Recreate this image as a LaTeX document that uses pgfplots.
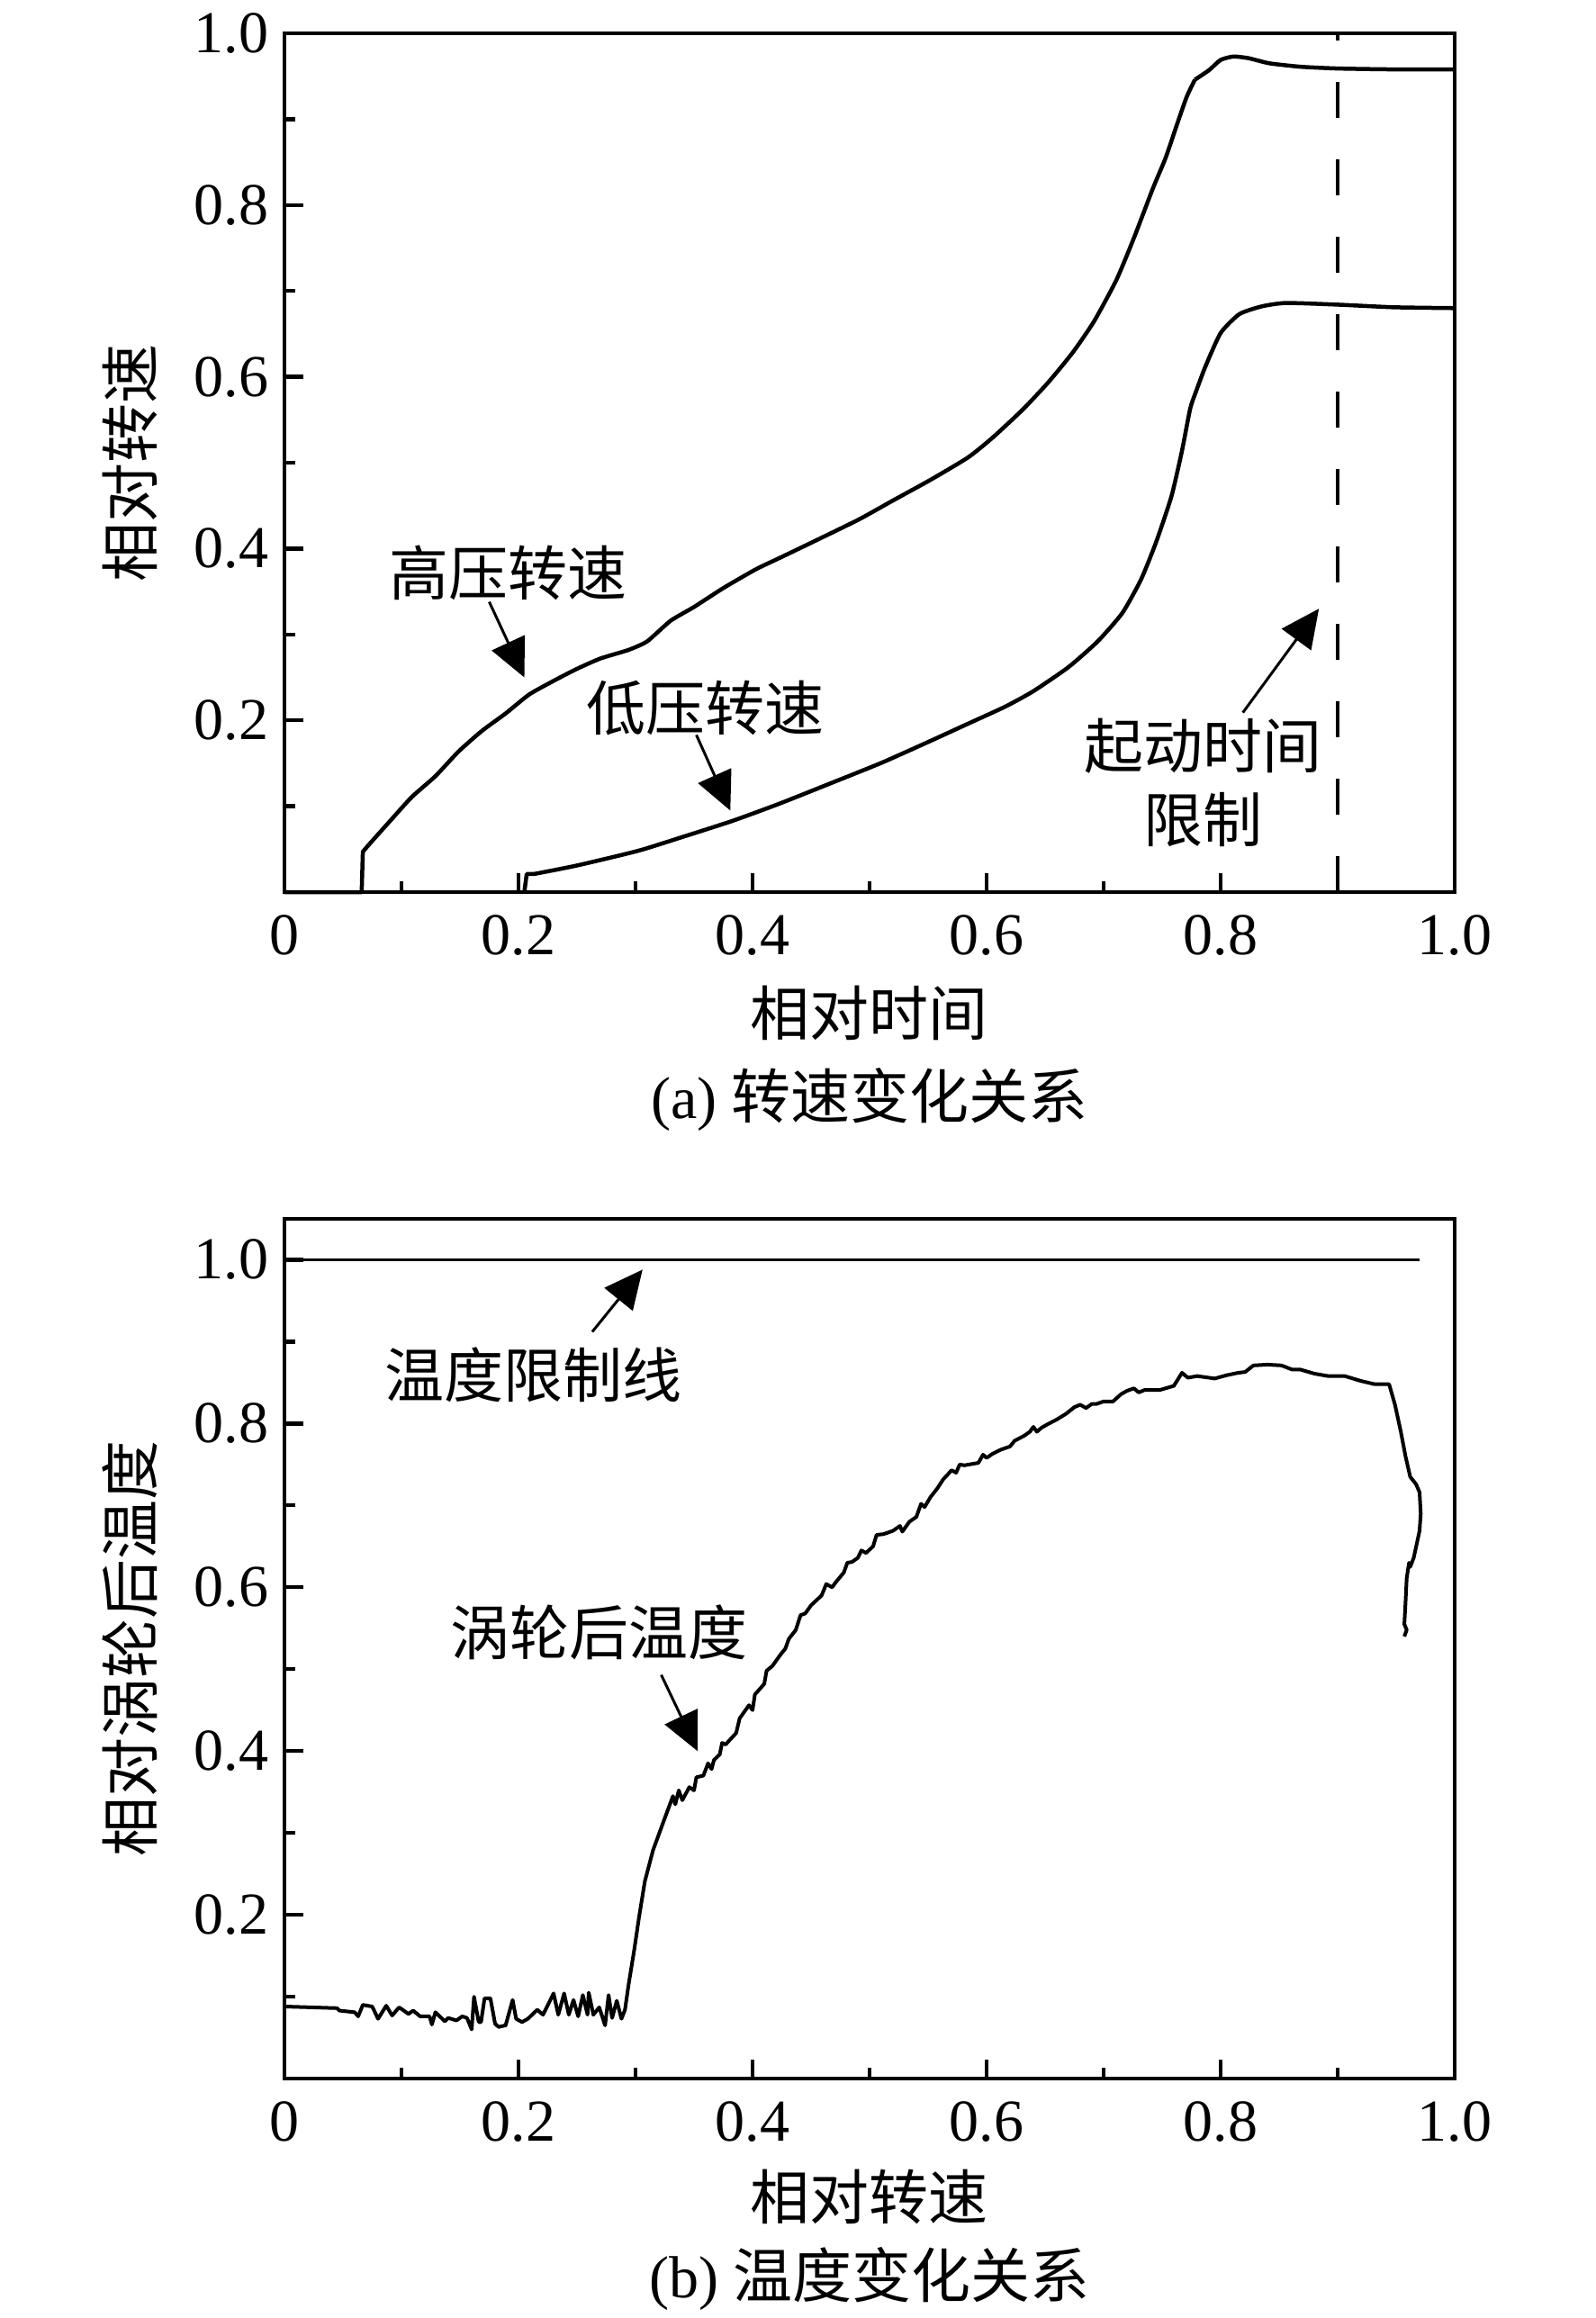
\documentclass[border=0pt]{standalone}
\usepackage{fontspec}
\setmainfont{Liberation Serif}
\newfontfamily\cjk{Noto Sans CJK SC}
\usepackage{pgfplots}
\pgfplotsset{compat=1.18}
\usetikzlibrary{arrows.meta}
\newcommand\fs{\fontsize{13.2}{16.4}\selectfont}
\tikzset{arr/.style={-{Triangle[length=8.5pt,width=8pt]}, line width=0.6pt, black}}
\pgfplotsset{
  myaxis/.style={
    scale only axis, width=260pt, clip=false,
    xmin=0, xmax=1, ymin=0,
    axis line style={line width=0.85pt},
    every tick/.style={line width=0.85pt, black},
    major tick length=4.2pt, minor tick length=2.4pt,
    tick align=inside, tick pos=left,
    xtick={0,0.2,0.4,0.6,0.8,1.0}, xticklabels={0,0.2,0.4,0.6,0.8,1.0},
    minor xtick={0.1,0.3,0.5,0.7,0.9},
    ytick={0.2,0.4,0.6,0.8,1.0}, yticklabels={0.2,0.4,0.6,0.8,1.0},
    minor ytick={0.1,0.3,0.5,0.7,0.9},
    ticklabel style={font=\fs},
    xticklabel style={yshift=-1.5pt},
    label style={font=\fs},
    /pgf/number format/assume math mode=true,
  },
  curve/.style={black, line width=0.9pt, line join=round},
}
\begin{document}
\begin{tikzpicture}
\useasboundingbox (-63.2pt,-316.8pt) rectangle (291.2pt,198.2pt);
% ---------------- panel (a)
\begin{axis}[myaxis, height=190.8pt, ymax=1.0,
  at={(0pt,0pt)}, anchor=south west,
  xlabel={\cjk 相对时间}, ylabel={\cjk 相对转速},
  xlabel style={at={(axis description cs:0.5,-0.141)}, anchor=center},
  ylabel style={at={(axis description cs:-0.1323,0.5)}, anchor=center}]
% high-pressure speed
\addplot[curve] coordinates {(0,0) (0.066,0) (0.067,0.047) (0.072,0.055)};
\addplot[curve, smooth, tension=0.35] coordinates {
(0.072,0.055) (0.093,0.087) (0.109,0.111)
(0.129,0.135) (0.149,0.164) (0.169,0.188) (0.189,0.208) (0.209,0.230)
(0.230,0.246) (0.250,0.260) (0.270,0.272) (0.294,0.282) (0.310,0.292)
(0.330,0.316) (0.350,0.332) (0.375,0.354) (0.403,0.376) (0.423,0.389)
(0.455,0.410) (0.491,0.434) (0.520,0.456) (0.552,0.480) (0.584,0.506)
(0.605,0.529) (0.631,0.562) (0.653,0.594) (0.674,0.629) (0.692,0.665)
(0.711,0.713) (0.726,0.762) (0.742,0.819) (0.753,0.855) (0.763,0.895)
(0.771,0.926) (0.778,0.946)};
\addplot[curve, smooth, tension=0.35] coordinates {
(0.778,0.946) (0.790,0.957) (0.800,0.969) (0.811,0.973)
(0.824,0.971) (0.842,0.965) (0.869,0.961) (0.901,0.959) (0.948,0.958)
(1.0,0.958)};
% low-pressure speed
\addplot[curve] coordinates {(0.205,0) (0.207,0.021) (0.213,0.021)};
\addplot[curve, smooth, tension=0.35] coordinates {
(0.213,0.021) (0.250,0.031) (0.302,0.048)
(0.342,0.065) (0.383,0.083) (0.423,0.103) (0.471,0.129) (0.511,0.151)
(0.552,0.176) (0.584,0.196) (0.616,0.216) (0.640,0.234) (0.670,0.262)
(0.695,0.292) (0.716,0.325) (0.732,0.364) (0.745,0.408) (0.758,0.461)
(0.767,0.514) (0.774,0.563) (0.779,0.583) (0.787,0.612) (0.800,0.651)
(0.816,0.673) (0.835,0.682) (0.856,0.686) (0.901,0.684) (0.948,0.681)
(1.0,0.680)};
\addplot[black, line width=0.85pt, dash pattern=on 8pt off 9.2pt] coordinates {(0.9,0) (0.9,1.0)};
\node[font=\fs\cjk] at (axis cs:0.191,0.372) {高压转速};
\draw[arr] (axis cs:0.175,0.338) -- (axis cs:0.205,0.250);
\node[font=\fs\cjk] at (axis cs:0.360,0.214) {低压转速};
\draw[arr] (axis cs:0.352,0.183) -- (axis cs:0.381,0.095);
\node[font=\fs\cjk, align=center] at (axis cs:0.785,0.127) {起动时间\\限制};
\draw[arr] (axis cs:0.819,0.209) -- (axis cs:0.884,0.330);
\node[font=\fs] at (axis description cs:0.5,-0.242) {(a) {\cjk 转速变化关系}};
\end{axis}
% ---------------- panel (b)
\begin{axis}[myaxis, height=191pt, ymax=1.05,
  at={(0pt,-263.6pt)}, anchor=south west,
  xlabel={\cjk 相对转速}, ylabel={\cjk 相对涡轮后温度},
  xlabel style={at={(axis description cs:0.5,-0.138)}, anchor=center},
  ylabel style={at={(axis description cs:-0.1323,0.5)}, anchor=center}]
\addplot[black, line width=0.75pt] coordinates {(0,1.0) (0.970,1.0)};
\addplot[curve, line width=0.8pt] coordinates {
(0.000,0.088) (0.045,0.086) (0.047,0.083) (0.060,0.081) (0.063,0.076)
(0.067,0.090) (0.075,0.088) (0.080,0.073) (0.087,0.089) (0.092,0.077)
(0.098,0.087) (0.106,0.079) (0.110,0.083) (0.116,0.076) (0.124,0.076)
(0.126,0.066) (0.129,0.081) (0.137,0.070) (0.140,0.074) (0.147,0.071)
(0.152,0.076) (0.156,0.074) (0.160,0.060) (0.162,0.100) (0.166,0.069)
(0.168,0.069) (0.171,0.098) (0.176,0.098) (0.180,0.067) (0.183,0.063)
(0.189,0.065) (0.195,0.096) (0.198,0.073) (0.203,0.069) (0.208,0.073)
(0.216,0.084) (0.221,0.078) (0.230,0.104) (0.234,0.078) (0.239,0.104)
(0.243,0.078) (0.247,0.096) (0.251,0.076) (0.255,0.102) (0.259,0.078)
(0.260,0.105) (0.264,0.078) (0.269,0.087) (0.274,0.065) (0.277,0.102)
(0.280,0.074) (0.284,0.095) (0.288,0.073) (0.291,0.084) (0.294,0.114)
(0.299,0.158) (0.303,0.197) (0.308,0.241) (0.315,0.279) (0.325,0.318)
(0.332,0.345) (0.334,0.335) (0.337,0.352) (0.340,0.340) (0.346,0.356)
(0.350,0.352) (0.352,0.368) (0.358,0.370) (0.362,0.385) (0.365,0.378)
(0.367,0.389) (0.372,0.396) (0.374,0.410) (0.377,0.408) (0.386,0.422)
(0.389,0.440) (0.391,0.444) (0.397,0.456) (0.400,0.450) (0.402,0.469)
(0.410,0.482) (0.412,0.498) (0.417,0.504) (0.424,0.518) (0.428,0.525)
(0.431,0.537) (0.437,0.548) (0.441,0.566) (0.445,0.568) (0.450,0.578)
(0.459,0.590) (0.463,0.604) (0.468,0.600) (0.471,0.606) (0.478,0.618)
(0.481,0.630) (0.485,0.631) (0.490,0.636) (0.493,0.645) (0.497,0.642)
(0.503,0.650) (0.506,0.664) (0.512,0.665) (0.520,0.669) (0.526,0.675)
(0.528,0.668) (0.534,0.680) (0.540,0.686) (0.544,0.702) (0.547,0.698)
(0.552,0.710) (0.558,0.721) (0.563,0.732) (0.567,0.738) (0.570,0.743)
(0.574,0.740) (0.577,0.750) (0.581,0.749) (0.593,0.752) (0.597,0.762)
(0.600,0.758) (0.605,0.763) (0.612,0.768) (0.620,0.772) (0.624,0.779)
(0.632,0.785) (0.637,0.790) (0.640,0.796) (0.643,0.790) (0.647,0.795)
(0.652,0.799) (0.660,0.805) (0.668,0.812) (0.675,0.820) (0.680,0.823)
(0.685,0.819) (0.690,0.824) (0.694,0.824) (0.700,0.827) (0.708,0.827)
(0.715,0.836) (0.720,0.840) (0.726,0.843) (0.730,0.838) (0.735,0.841)
(0.748,0.841) (0.760,0.846) (0.767,0.862) (0.772,0.856) (0.780,0.858)
(0.795,0.855) (0.805,0.859) (0.815,0.862) (0.821,0.863) (0.828,0.871)
(0.840,0.872) (0.852,0.871) (0.861,0.866) (0.868,0.866) (0.880,0.861)
(0.892,0.858) (0.906,0.858) (0.920,0.852) (0.932,0.848) (0.944,0.848)
(0.949,0.823) (0.954,0.790) (0.958,0.760) (0.962,0.735) (0.967,0.726)
(0.970,0.716) (0.971,0.690) (0.970,0.669) (0.965,0.636) (0.962,0.625)
(0.961,0.630) (0.959,0.611) (0.958,0.581) (0.957,0.555) (0.959,0.548)
(0.957,0.540)};
\node[font=\fs\cjk] at (axis cs:0.213,0.859) {温度限制线};
\draw[arr] (axis cs:0.263,0.912) -- (axis cs:0.306,0.988);
\node[font=\fs\cjk] at (axis cs:0.269,0.545) {涡轮后温度};
\draw[arr] (axis cs:0.322,0.493) -- (axis cs:0.353,0.400);
\node[font=\fs] at (axis description cs:0.5,-0.233) {(b) {\cjk 温度变化关系}};
\end{axis}
\end{tikzpicture}
\end{document}
